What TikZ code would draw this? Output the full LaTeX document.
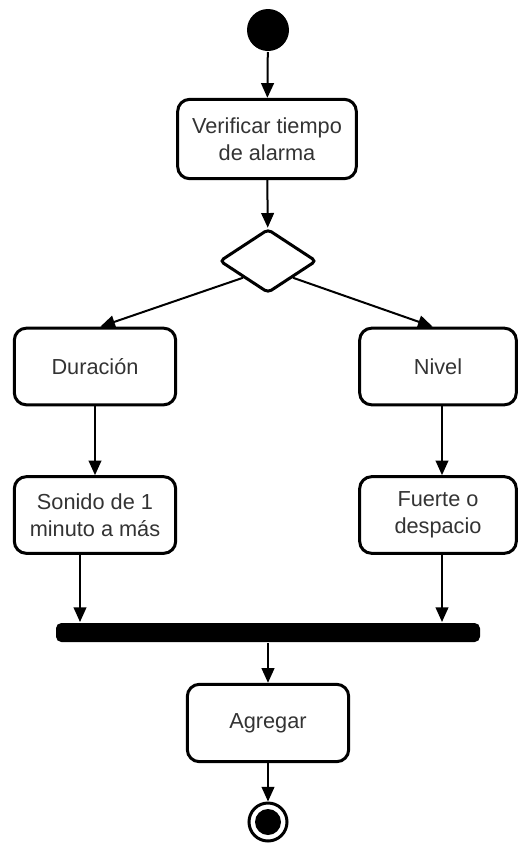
\documentclass[tikz,border=0pt]{standalone}
\usepackage{fontspec}
\setmainfont{Liberation Sans}
\usetikzlibrary{arrows.meta,shapes.geometric}
\definecolor{txtgray}{HTML}{333333}

\tikzset{every picture/.style={line width=1.5pt}}
\tikzset{
  act/.style={draw, rounded corners=9pt, line width=2.25pt, align=center, inner sep=0pt,
    text=txtgray, font=\fontsize{16.3}{20.25}\selectfont},
  decision/.style={draw, diamond, rounded corners=3pt, line width=2.25pt, inner sep=0pt,
    minimum width=72.75pt, minimum height=48pt},
  startnode/.style={circle, fill=black, inner sep=0pt, minimum size=31.5pt},
  endout/.style={circle, draw, line width=2.25pt, fill=white, inner sep=0pt, minimum size=28.5pt},
  endin/.style={circle, fill=black, inner sep=0pt, minimum size=19.5pt},
  syncbar/.style={fill=black, rounded corners=4pt, inner sep=0pt, minimum width=318pt, minimum height=14.25pt},
  arr/.style={-{Triangle[length=11pt,width=9.5pt]}, line width=1.5pt},
}

\begin{document}
\begin{tikzpicture}[x=0.75pt,y=0.75pt,yscale=-1,xscale=1]
    \useasboundingbox (0,0) rectangle (518,844);

    %Initial node
    \node[startnode] (ini) at (268,30) {};
    %Verificar
    \node[act, minimum width=134pt, minimum height=59.5pt] (ver) at (267,139) {Verificar tiempo\\de alarma};
    %Decision
    \node[decision] (dec) at (268,261) {};
    %Duracion / Nivel
    \node[act, minimum width=121pt, minimum height=57.5pt] (dur) at (95,366.5) {Duración};
    \node[act, minimum width=117.5pt, minimum height=57.5pt] (niv) at (438,366.5) {Nivel};
    %Sonido / Fuerte
    \node[act, minimum width=121pt, minimum height=57.5pt] (son) at (95,515) {Sonido de 1\\minuto a más};
    \node[act, minimum width=117.5pt, minimum height=57.5pt] (fue) at (438,515) {Fuerte o\\despacio};
    %Fork bar
    \node[syncbar] (bar) at (268,632.5) {};
    %Agregar
    \node[act, minimum width=121pt, minimum height=58pt] (agr) at (268,723) {Agregar};
    %Final node
    \node[endout] (fin) at (268,822) {};
    \node[endin] (finin) at (fin) {};

    %Connectors
    \draw[arr] (ini) -- (ver);
    \draw[arr] (ver) -- (dec);
    \draw[arr] (dec.south west) -- ([xshift=4pt]dur.north);
    \draw[arr] (dec.south east) -- ([xshift=-4pt]niv.north);
    \draw[arr] (dur) -- (son);
    \draw[arr] ([xshift=3pt]niv.south) -- ([xshift=3pt]fue.north);
    \draw[arr] ([xshift=-11.25pt]son.south) -- ([xshift=-11.25pt]son.south |- bar.north);
    \draw[arr] ([xshift=3pt]fue.south) -- ([xshift=3pt]fue.south |- bar.north);
    \draw[arr] (bar) -- (agr);
    \draw[arr] (agr) -- (fin);

\end{tikzpicture}
\end{document}
